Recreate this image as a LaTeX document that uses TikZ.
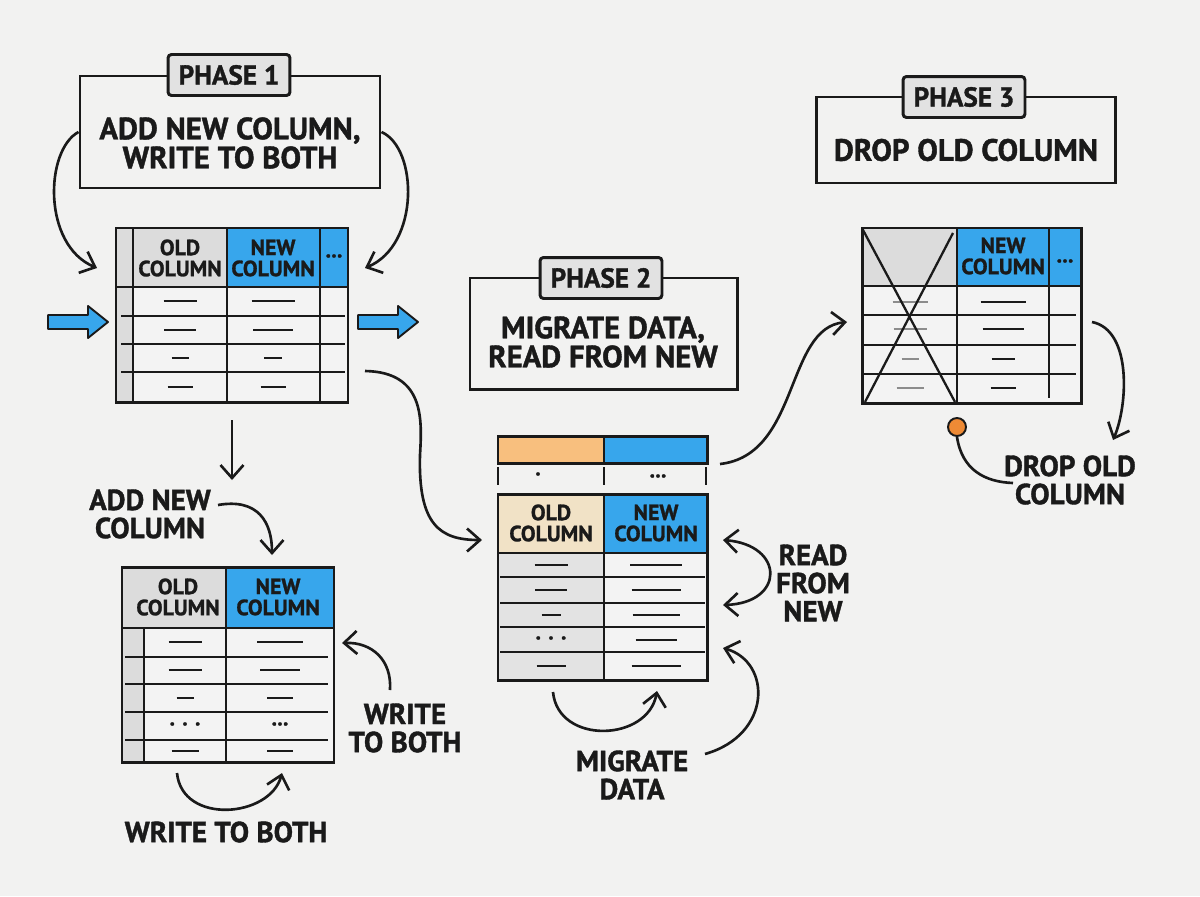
\documentclass[tikz,border=0pt]{standalone}
\usepackage{fontspec}
\setmainfont{PT Sans}[BoldFeatures={FakeBold=1.3}]
\usetikzlibrary{arrows.meta,positioning,fit,calc}
\definecolor{bgpaper}{HTML}{F2F2F1}
\definecolor{ink}{HTML}{1A1A1A}
\definecolor{fadeink}{HTML}{8C8C8C}
\definecolor{newblue}{HTML}{37A6EC}
\definecolor{oldorange}{HTML}{F8BF7E}
\definecolor{oldtan}{HTML}{F1E2C6}
\definecolor{cellgray}{HTML}{DCDCDC}
\definecolor{bodygray}{HTML}{E3E3E3}
\definecolor{bodyfill}{HTML}{F3F3F3}
\definecolor{taggray}{HTML}{E2E2E2}
\definecolor{dotorange}{HTML}{EE8A35}

\begin{document}
\begin{tikzpicture}[x=0.02cm, y=-0.02cm,
    phase/.style={draw=ink, line width=1.7pt, fill=bgpaper, inner sep=0pt},
    tag/.style={draw=ink, line width=1.7pt, fill=taggray, rounded corners=2pt,
                minimum width=2.44cm, minimum height=0.82cm, inner sep=0pt,
                font=\fontsize{15.5}{16}\selectfont\bfseries, text=ink},
    ttl/.style={align=center, font=\fontsize{17.5}{16.5}\selectfont\bfseries, text=ink},
    lbl/.style={align=center, font=\fontsize{16.5}{16}\selectfont\bfseries, text=ink},
    hdr/.style={align=center, font=\fontsize{12.5}{12}\selectfont\bfseries, text=ink},
    frame/.style={draw=ink, line width=1.7pt, inner sep=0pt},
    grid/.style={ink, line width=1.2pt},
    dsh/.style={ink, line width=1.2pt},
    arr/.style={-{Straight Barb[length=2.6mm, width=4.6mm]}, ink, line width=1.5pt},
    bluearr/.style={fill=newblue, draw=ink, line width=1.1pt, line join=round}]

  % paper
  \path[fill=bgpaper, use as bounding box] (0,0) rectangle (1200,896);

  % phase boxes
  \node[phase, fit={(80,76) (380,188)}] (pA) {};
  \node[tag] (gA) at (229,75) {PHASE 1};
  \node[ttl] (pAt) at (230,143) {ADD NEW COLUMN,\\WRITE TO BOTH};

  \node[phase, fit={(470,278) (737,389)}] (pB) {};
  \node[tag] (gB) at (601,278) {PHASE 2};
  \node[ttl] (pBt) at (603,342) {MIGRATE DATA,\\READ FROM NEW};

  \node[phase, fit={(816,97) (1115,183)}] (pC) {};
  \node[tag] (gC) at (964,97) {PHASE 3};
  \node[ttl] (pCt) at (966,150) {DROP OLD COLUMN};

  % table A (phase 1)
  \fill[cellgray] (116,228) rectangle (133,402);
  \fill[cellgray] (133,228) rectangle (227,287);
  \fill[newblue] (227,228) rectangle (348,287);
  \fill[bodyfill] (133,287) rectangle (348,402);
  \draw[grid] (133,228) -- (133,402) (227,228) -- (227,402) (320,228) -- (320,402);
  \draw[grid] (116,287) -- (348,287);
  \foreach \y in {316,344,372} \draw[grid] (121,\y) -- (345,\y);
  \foreach \y/\a/\b in {301/33/43, 330/32/40, 358/17/18, 387/25/25} {
    \draw[dsh] ({180-\a/2},\y) -- ({180+\a/2},\y);
    \draw[dsh] ({273-\b/2},\y) -- ({273+\b/2},\y);
  }
  \node[frame, fit={(116,228) (348,402)}] (tA) {};
  \node[hdr] (hAo) at (180,258) {OLD\\COLUMN};
  \node[hdr] (hAn) at (273,258) {NEW\\COLUMN};
  \node[hdr] (hAx) at (334,256) {...};

  % blue arrows
  \draw[bluearr] (48,315) -- (88,315) -- (88,306) -- (108,322) -- (88,338) -- (88,329) -- (48,329) -- cycle;
  \draw[bluearr] (358,315) -- (398,315) -- (398,306) -- (418,322) -- (398,338) -- (398,329) -- (358,329) -- cycle;

  % table B (write to both)
  \fill[cellgray] (122,567) rectangle (226,628);
  \fill[newblue] (226,567) rectangle (334,628);
  \fill[cellgray] (122,628) rectangle (144,762);
  \fill[bodyfill] (144,628) rectangle (334,762);
  \draw[grid] (144,628) -- (144,762) (226,567) -- (226,762);
  \draw[grid] (122,628) -- (334,628);
  \foreach \y in {657,684,712,740} \draw[grid] (125,\y) -- (328,\y);
  \foreach \y/\a/\b in {642/33/46, 670/33/40, 698/17/26, 751/27/26} {
    \draw[dsh] ({185-\a/2},\y) -- ({185+\a/2},\y);
    \draw[dsh] ({280-\b/2},\y) -- ({280+\b/2},\y);
  }
  \node[hdr] at (185,724) {.\,\,.\,\,.};
  \node[hdr] at (280,724) {...};
  \node[frame, fit={(122,567) (334,762)}] (tB) {};
  \node[hdr] (hBo) at (178,597) {OLD\\COLUMN};
  \node[hdr] (hBn) at (278,597) {NEW\\COLUMN};

  % table C (migrate)
  \fill[oldorange] (498,436) rectangle (604,463);
  \fill[newblue] (604,436) rectangle (707,463);
  \draw[grid] (604,436) -- (604,463);
  \node[frame, fit={(498,436) (707,463)}] (bar) {};
  \draw[ink, line width=0.8pt] (498,467) -- (498,485) (604,467) -- (604,485) (706,467) -- (706,485);
  \node[hdr] at (538,474) {.};
  \node[hdr] at (658,476) {...};
  \fill[oldtan] (498,494) rectangle (604,553);
  \fill[newblue] (604,494) rectangle (707,553);
  \fill[bodygray] (498,553) rectangle (604,680);
  \fill[bodyfill] (604,553) rectangle (707,680);
  \draw[grid] (604,494) -- (604,680);
  \draw[grid] (498,553) -- (707,553);
  \foreach \y in {577,603,627,652} \draw[grid] (500,\y) -- (705,\y);
  \foreach \y/\a/\b in {565/33/52, 590/32/49, 615/19/47, 640/0/41, 666/29/49} {
    \draw[dsh] ({551-\a/2},\y) -- ({551+\a/2},\y);
    \draw[dsh] ({656-\b/2},\y) -- ({656+\b/2},\y);
  }
  \node[hdr] at (551,638) {.\,\,.\,\,.};
  \node[frame, fit={(498,494) (707,680)}] (tC) {};
  \node[hdr] (hCo) at (551,523) {OLD\\COLUMN};
  \node[hdr] (hCn) at (656,523) {NEW\\COLUMN};

  % table D (drop)
  \fill[cellgray] (862,228) rectangle (957,286);
  \fill[newblue] (957,228) rectangle (1081,286);
  \fill[bodyfill] (862,286) rectangle (1081,403);
  \draw[grid] (957,228) -- (957,403) (1049,228) -- (1049,398);
  \draw[grid] (862,286) -- (1081,286);
  \foreach \y in {315,345,374} \draw[grid] (864,\y) -- (1076,\y);
  \foreach \y/\a/\b in {302/35/45, 329/33/41, 359/17/23, 388/27/25} {
    \draw[fadeink, line width=0.9pt] ({910-\a/2},\y) -- ({910+\a/2},\y);
    \draw[dsh] ({1003-\b/2},\y) -- ({1003+\b/2},\y);
  }
  \draw[ink, line width=1.3pt] (863,230) -- (955,402) (953,233) -- (865,402);
  \node[frame, fit={(862,228) (1081,403)}] (tD) {};
  \node[hdr] (hDn) at (1003,256) {NEW\\COLUMN};
  \node[hdr] (hDx) at (1065,261) {...};

  % labels
  \node[lbl] (lAdd) at (150,514) {ADD NEW\\COLUMN};
  \node[lbl] (lSide) at (405,728) {WRITE\\TO BOTH};
  \node[lbl] (lBoth) at (226,832) {WRITE TO BOTH};
  \node[lbl] (lRead) at (813,583) {READ\\FROM\\NEW};
  \node[lbl] (lMig) at (632,775) {MIGRATE\\DATA};
  \node[lbl] (lDrop) at (1070,480) {DROP OLD\\COLUMN};
  \node[circle, fill=dotorange, draw=ink, line width=1.1pt, minimum size=0.36cm, inner sep=0pt] (dot) at (957,427) {};

  % arrow ends
  \coordinate (eA1) at (97,268);
  \coordinate (eA2) at (365,268);
  \coordinate (sAC) at (365,371);
  \coordinate (eAC) at (482,540);
  \coordinate (sDn) at (232,420);
  \coordinate (eDn) at (232,480);
  \coordinate (sAdd) at (218,505);
  \coordinate (eAdd) at (272,555);
  \coordinate (sSide) at (390,690);
  \coordinate (eSide) at (342,643);
  \coordinate (sBot) at (177,773);
  \coordinate (eBot) at (282,773);
  \coordinate (sMg) at (553,692);
  \coordinate (eMg) at (657,691);
  \coordinate (rTop) at (723,540);
  \coordinate (rBot) at (723,605);
  \coordinate (sMig) at (705,754);
  \coordinate (eMig) at (723,648);
  \coordinate (sCD) at (720,464);
  \coordinate (eCD) at (847,322);
  \coordinate (sDr) at (1092,322);
  \coordinate (eDr) at (1113,440);
  \coordinate (eDot) at (1013,483);

  \draw[arr] (pA.west) .. controls (45,150) and (42,245) .. (eA1);
  \draw[arr] (pA.east) .. controls (418,148) and (420,245) .. (eA2);
  \draw[arr] (sAC) .. controls (425,372) and (422,420) .. (420,455) .. controls (418,525) and (440,540) .. (eAC);
  \draw[arr] (sDn) -- (eDn);
  \draw[arr] (sAdd) .. controls (258,498) and (272,522) .. (eAdd);
  \draw[arr] (sSide) .. controls (392,660) and (372,642) .. (eSide);
  \draw[arr] (sBot) .. controls (182,825) and (270,818) .. (eBot);
  \draw[arr] (sMg) .. controls (558,745) and (648,742) .. (eMg);
  \draw[arr, {Straight Barb[length=2.6mm, width=4.6mm]}-{Straight Barb[length=2.6mm, width=4.6mm]}] (rTop) .. controls (785,545) and (785,603) .. (rBot);
  \draw[arr] (sMig) .. controls (772,735) and (772,662) .. (eMig);
  \draw[arr] (sCD) .. controls (800,455) and (785,328) .. (eCD);
  \draw[arr] (sDr) .. controls (1132,330) and (1128,405) .. (eDr);
  \draw[ink, line width=1.5pt] (dot.south) .. controls (962,470) and (985,482) .. (eDot);
\end{tikzpicture}
\end{document}
